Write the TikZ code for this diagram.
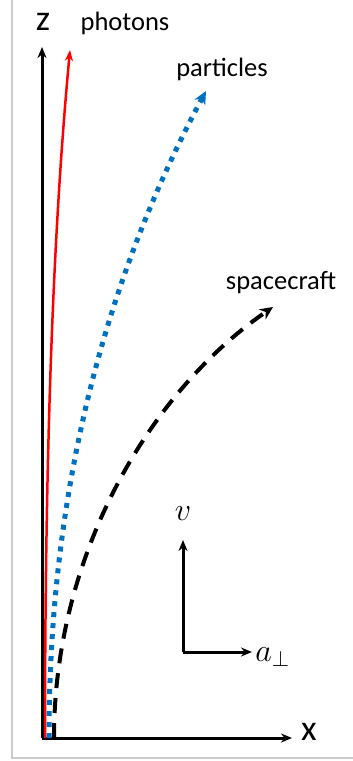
\documentclass[tikz,border=0pt]{standalone}
\usepackage{fontspec}
\setmainfont{Carlito}
\usepackage{amsmath}
\usetikzlibrary{arrows.meta,positioning}
\definecolor{framegrey}{RGB}{205,205,205}
\definecolor{officeblue}{RGB}{0,112,192}

\begin{document}
\begin{tikzpicture}[x=1pt, y=-1pt,
    lbl/.style={inner sep=0pt, font=\fontsize{26.5}{30}\selectfont},
    axlbl/.style={inner sep=0pt, font=\fontsize{36}{40}\selectfont},
    mlbl/.style={inner sep=0pt, font=\fontsize{20}{24}\selectfont, scale=1.55},
    axis/.style={-{Stealth[length=11pt,width=9pt]}, line width=3pt, black},
    photon/.style={-{Stealth[length=11pt,width=8pt]}, line width=2.5pt, red},
    particle/.style={-{Stealth[length=13pt,width=12pt]}, line width=5pt, officeblue, dash pattern=on 5pt off 6pt},
    craft/.style={-{Stealth[length=13pt,width=12pt]}, line width=4pt, black, dash pattern=on 15pt off 10pt}
]
    \useasboundingbox (0,0) rectangle (353,761);
    \draw[framegrey, line width=1.5pt] (12,0) -- (12,758) -- (353,758);
    % axes
    \coordinate (O) at (42,738);
    \coordinate (zend) at (42,47);
    \coordinate (xend) at (292,738);
    \draw[axis] (O) -- (zend);
    \draw[axis] (O) -- (xend);
    \node[axlbl] (zlab) at (43,22) {z};
    \node[axlbl] (xlab) at (309,732) {x};
    % trajectories
    \coordinate (redA) at (45,738);
    \coordinate (redB) at (70,50);
    \draw[photon] (redA) .. controls (45,420) and (55,210) .. (redB);
    \coordinate (bluA) at (49,738);
    \coordinate (bluB) at (206,91);
    \draw[particle] (bluA) .. controls (49,480) and (110,270) .. (bluB);
    \coordinate (blkA) at (54,738);
    \coordinate (blkB) at (273,307);
    \draw[craft] (blkA) .. controls (54,560) and (145,395) .. (blkB);
    \node[lbl] (photons) at (125,23) {photons};
    \node[lbl] (particles) at (222,69) {particles};
    \node[lbl] (craftlab) at (281,283) {spacecraft};
    % velocity and acceleration
    \coordinate (V0) at (183,652);
    \coordinate (vend) at (183,540);
    \coordinate (aend) at (252,652);
    \draw[axis] (V0) -- (vend);
    \draw[axis] (V0) -- (aend);
    \node[mlbl] (vlab) at (183,514) {$v$};
    \node[mlbl, anchor=west] (alab) at (255,657) {$a_{\perp}$};
\end{tikzpicture}
\end{document}
